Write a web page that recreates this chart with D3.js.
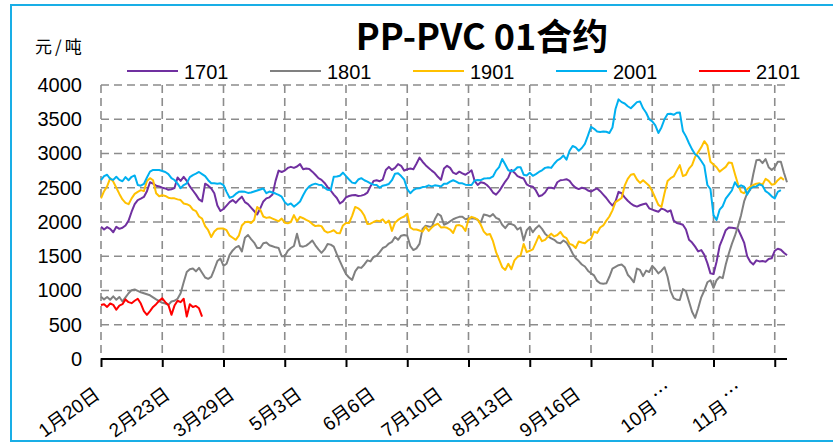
<!DOCTYPE html>
<html>
<head>
<meta charset="utf-8">
<script src="https://cdn.jsdelivr.net/npm/d3@7"></script>
<style>
  body { margin: 0; background: #fff; }
  svg { display: block; }
</style>
</head>
<body>
<svg id="chart" width="833" height="446"></svg>
<script>
// PP-PVC spread, January contracts, one value per trading day (元/吨)
const seriesNames = ["1701", "1801", "1901", "2001", "2101"];
const seriesColors = ["#7030A0", "#808080", "#FFC000", "#00B0F0", "#FF0000"];

const s1701 = [
  1932,1890,1925,1900,1850,1930,1900,1915,1950,2020,2150,2260,2320,2340,2365,2450,2580,2560,2530,2520,
  2500,2490,2470,2478,2495,2650,2600,2660,2600,2520,2460,2400,2330,2300,2560,2530,2490,2420,2240,2160,
  2190,2240,2290,2320,2280,2330,2370,2290,2260,2210,2160,2110,2200,2300,2345,2360,2400,2600,2750,2730,
  2750,2790,2805,2790,2810,2845,2770,2780,2775,2735,2690,2640,2615,2570,2510,2460,2400,2350,2270,2300,
  2360,2380,2390,2395,2380,2385,2400,2430,2520,2600,2610,2595,2620,2760,2805,2760,2790,2845,2820,2750,
  2770,2780,2770,2850,2940,2880,2830,2790,2750,2715,2660,2615,2780,2820,2790,2720,2700,2735,2710,2690,
  2720,2755,2600,2540,2580,2570,2540,2495,2430,2400,2450,2520,2590,2650,2760,2720,2670,2650,2635,2550,
  2525,2515,2460,2375,2390,2430,2500,2500,2490,2580,2610,2615,2625,2600,2540,2500,2480,2500,2490,2460,
  2445,2470,2490,2450,2400,2350,2290,2240,2300,2440,2420,2360,2310,2270,2240,2225,2245,2260,2270,2200,
  2180,2165,2150,2195,2180,2150,2170,2020,1985,1975,1960,1890,1740,1700,1640,1570,1590,1520,1400,1250,
  1240,1420,1650,1760,1880,1920,1915,1910,1895,1800,1700,1500,1420,1380,1440,1425,1430,1420,1460,1470,
  1580,1610,1595,1550,1515
];

const s1801 = [
  910,870,905,865,915,865,905,840,900,960,1005,1015,995,975,960,945,930,900,870,845,
  820,810,790,840,850,880,960,1120,1270,1310,1320,1280,1330,1260,1190,1170,1200,1310,1430,1465,
  1360,1390,1520,1585,1630,1650,1570,1770,1810,1750,1700,1620,1620,1690,1700,1660,1645,1630,1620,1500,
  1500,1580,1620,1650,1830,1650,1640,1655,1690,1730,1660,1600,1550,1600,1680,1670,1640,1530,1430,1330,
  1240,1190,1155,1280,1340,1330,1380,1440,1425,1490,1505,1560,1620,1640,1685,1710,1780,1740,1800,1810,
  1800,1650,1590,1615,1680,1900,1945,1935,1930,2040,2120,2090,1960,1980,2010,2040,2060,2075,2078,2040,
  2050,2055,2050,2030,1990,2110,2100,2080,2115,2060,2040,1960,1910,1970,1970,1950,1890,1920,1730,1880,
  1930,1850,1910,1950,1900,1830,1790,1760,1740,1700,1690,1730,1700,1630,1540,1470,1430,1380,1350,1290,
  1250,1220,1140,1105,1100,1105,1200,1320,1345,1370,1380,1340,1230,1180,1120,1320,1300,1210,1290,1270,
  1360,1310,1250,1290,1340,1200,990,890,865,860,1020,990,840,690,600,740,900,1000,1120,1150,
  1040,1150,1200,1180,1380,1540,1680,1800,1940,2100,2300,2420,2470,2700,2900,2910,2860,2920,2800,2760,
  2800,2880,2880,2720,2580
];

const s1901 = [
  2345,2450,2520,2640,2590,2500,2410,2330,2280,2260,2345,2410,2440,2465,2450,2600,2640,2610,2420,2375,
  2390,2380,2355,2345,2345,2330,2320,2270,2260,2240,2180,2160,2080,2050,1940,1880,1780,1860,1900,1905,
  1905,1880,1800,1770,1740,1800,1950,1995,2005,1985,2030,2220,2180,2080,2060,2070,2050,2030,2010,2050,
  1990,1980,2000,2100,2010,2075,2055,2030,2010,1970,1940,1950,1940,1870,1845,1860,1880,1840,1835,1950,
  1985,1985,2090,2220,2200,2160,2090,1970,1975,2000,2020,2010,2040,1985,2020,1870,1990,2030,2060,2080,
  2120,1920,1890,1890,1875,1860,1930,1870,1920,1955,1975,1920,1925,1915,1890,1840,1950,1955,1935,1870,
  2040,2075,2060,2035,1960,1860,1815,1825,1720,1560,1450,1340,1300,1390,1310,1440,1490,1510,1680,1560,
  1580,1600,1700,1800,1720,1740,1790,1830,1790,1810,1855,1790,1765,1680,1665,1620,1715,1700,1690,1730,
  1755,1860,1840,1920,1950,2020,2080,2170,2290,2320,2350,2530,2630,2690,2700,2620,2570,2610,2570,2530,
  2450,2350,2250,2220,2420,2600,2640,2665,2750,2830,2670,2690,2780,2830,2950,3020,3090,3180,3120,2880,
  2840,2800,2735,2770,2805,2870,2860,2700,2550,2440,2420,2480,2515,2540,2560,2565,2545,2630,2600,2545,
  2555,2610,2650,2615
];

const s2001 = [
  2613,2670,2690,2630,2615,2660,2615,2595,2655,2610,2660,2680,2540,2530,2555,2650,2735,2760,2760,2758,
  2745,2730,2700,2640,2613,2560,2495,2540,2565,2655,2685,2705,2730,2700,2670,2610,2565,2565,2560,2565,
  2540,2440,2355,2370,2410,2440,2445,2440,2425,2430,2445,2460,2475,2490,2420,2445,2430,2415,2395,2370,
  2290,2250,2270,2225,2260,2300,2390,2470,2520,2545,2560,2545,2540,2500,2470,2465,2660,2665,2675,2720,
  2670,2620,2575,2565,2620,2640,2610,2590,2565,2545,2540,2500,2530,2540,2555,2610,2705,2710,2670,2620,
  2480,2420,2465,2490,2492,2510,2515,2535,2520,2535,2530,2520,2560,2560,2590,2610,2590,2565,2564,2545,
  2540,2540,2605,2613,2610,2635,2637,2640,2665,2750,2800,2920,2840,2755,2740,2755,2800,2800,2690,2680,
  2720,2675,2700,2730,2755,2790,2800,2790,2850,2900,2925,2970,2910,3040,3110,3090,3040,3080,3140,3260,
  3390,3360,3320,3315,3320,3318,3300,3380,3650,3790,3750,3730,3690,3660,3705,3750,3760,3660,3595,3500,
  3470,3410,3300,3380,3500,3575,3580,3565,3595,3600,3330,3250,3150,3060,2990,2955,2890,2820,2540,2480,
  2100,2030,2180,2230,2340,2400,2460,2580,2510,2535,2515,2400,2485,2515,2520,2550,2530,2450,2420,2375,
  2345,2440,2465
];

const s2101 = [
  788,800,760,810,790,720,780,800,870,830,815,850,880,810,700,645,700,760,800,850,
  885,830,790,645,780,850,830,880,620,800,760,775,740,620
];

const seriesValues = [s1701, s1801, s1901, s2001, s2101];

// value axis
const yTicks = [0, 500, 1000, 1500, 2000, 2500, 3000, 3500, 4000];
// category axis: a tick mark every 20 trading days, labels on selected trading days
const tickStep = 20;
const xLabels = ["1月20日", "2月23日", "3月29日", "5月3日", "6月6日", "7月10日", "8月13日", "9月16日", "10月…", "11月…"];
const xLabelIdx = [0, 23, 44, 66, 90, 112, 135, 157, 188, 211];

const latin = "'Liberation Sans', Arial, 'Noto Sans CJK SC', sans-serif";
const cjk = "'Noto Sans CJK SC', 'Liberation Sans', sans-serif";

const svg = d3.select("#chart");
const plot = { left: 101, right: 787, top: 85, bottom: 359 };
const nDays = d3.max(seriesValues, s => s.length);

const x = d3.scaleLinear().domain([0, nDays - 1]).range([plot.left, plot.right]);
const y = d3.scaleLinear().domain([0, 4000]).range([plot.bottom, plot.top]);

// outer frame
svg.append("rect")
  .attr("x", 11).attr("y", 5).attr("width", 840).attr("height", 436)
  .attr("fill", "#fff").attr("stroke", "#19AEE6").attr("stroke-width", 2);

// title and unit
svg.append("text")
  .attr("x", 482).attr("y", 50)
  .attr("text-anchor", "middle")
  .attr("font-family", cjk).attr("font-weight", 700).attr("font-size", 36)
  .attr("fill", "#000")
  .text("PP-PVC 01合约");

svg.append("text")
  .attr("x", 35).attr("y", 53)
  .attr("font-family", cjk).attr("font-size", 17).attr("letter-spacing", 3)
  .attr("fill", "#000")
  .text("元/吨");

// grid
const grid = svg.append("g")
  .attr("stroke", "#8C8C8C").attr("stroke-width", 1.6).attr("stroke-dasharray", "8,5").attr("fill", "none");

grid.selectAll("line.h")
  .data(yTicks.filter(v => v > 0))
  .join("line")
  .attr("x1", plot.left).attr("x2", plot.right)
  .attr("y1", d => y(d)).attr("y2", d => y(d));

const tickIdx = d3.range(0, nDays, tickStep);
grid.selectAll("line.v")
  .data(tickIdx)
  .join("line")
  .attr("x1", d => x(d)).attr("x2", d => x(d))
  .attr("y1", plot.top).attr("y2", plot.bottom);

// value axis labels
const yAxis = d3.axisLeft(y).tickValues(yTicks).tickFormat(d3.format("d")).tickSize(0).tickPadding(19);
svg.append("g")
  .attr("transform", `translate(${plot.left},0)`)
  .call(yAxis)
  .call(g => g.select(".domain").remove())
  .call(g => g.selectAll("text")
    .attr("font-family", latin).attr("font-size", 20).attr("fill", "#000"));

// series lines
const line = d3.line()
  .x((d, i) => x(i))
  .y(d => y(d));

svg.append("g")
  .selectAll("path")
  .data(seriesValues)
  .join("path")
  .attr("d", d => line(d))
  .attr("fill", "none")
  .attr("stroke", (d, i) => seriesColors[i])
  .attr("stroke-width", 2)
  .attr("stroke-linejoin", "round");

// category axis with tick marks
const xAxis = d3.axisBottom(x).tickValues(tickIdx).tickSize(8).tickFormat("");
svg.append("g")
  .attr("transform", `translate(0,${plot.bottom})`)
  .call(xAxis)
  .call(g => g.select(".domain").attr("d", `M${plot.left},0H${plot.right}`)
    .attr("stroke", "#000").attr("stroke-width", 2))
  .call(g => g.selectAll(".tick line").attr("stroke", "#000").attr("stroke-width", 2));

// rotated category labels; a shortened label ends in a raised ellipsis
const labelG = svg.append("g");
xLabels.forEach((lab, k) => {
  const t = labelG.append("text")
    .attr("transform", `translate(${x(xLabelIdx[k])},397) rotate(-36)`)
    .attr("text-anchor", "end")
    .attr("font-family", latin).attr("font-size", 19).attr("fill", "#000");
  const parts = lab.split(/(…)/).filter(p => p.length);
  parts.forEach(p => {
    const ts = t.append("tspan")
      .attr("font-family", p === "…" ? cjk : latin)
      .text(p);
    if (p === "…") ts.attr("dx", 3).attr("dy", -7);
  });
});

// legend
const legend = svg.append("g");
seriesNames.forEach((name, i) => {
  const lx = 127 + i * 143;
  legend.append("line")
    .attr("x1", lx).attr("x2", lx + 51)
    .attr("y1", 71).attr("y2", 71)
    .attr("stroke", seriesColors[i]).attr("stroke-width", 2);
  legend.append("text")
    .attr("x", lx + 57).attr("y", 79)
    .attr("font-family", latin).attr("font-size", 20).attr("fill", "#000")
    .text(name);
});
</script>
</body>
</html>
